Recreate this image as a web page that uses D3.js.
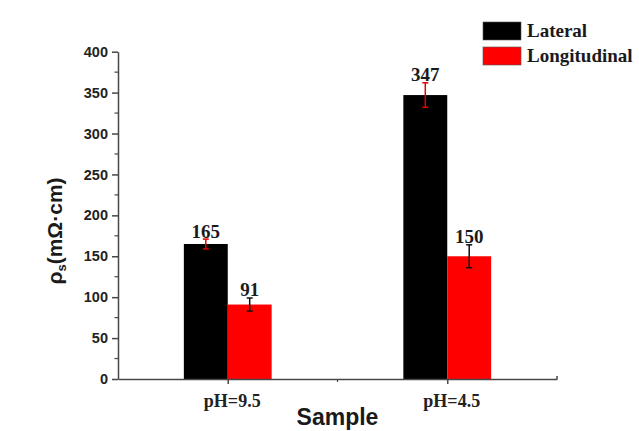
<!DOCTYPE html>
<html>
<head>
<meta charset="utf-8">
<script src="https://cdn.jsdelivr.net/npm/d3@7"></script>
<style>
  body { margin: 0; background: #fff; }
  svg { display: block; }
</style>
</head>
<body>
<svg id="chart" width="639" height="431"></svg>
<script>
// values
const samples = ["pH=9.5", "pH=4.5"]
const lateral = [165, 347]
const lateralErr = [6, 15]
const longitudinal = [91, 150]
const longitudinalErr = [8, 14]
const yTicks = [0, 50, 100, 150, 200, 250, 300, 350, 400]

const svg = d3.select("#chart")
const axisColor = "#474747"

// plot frame
const frame = {left: 118, right: 557, top: 51.7, bottom: 379}

// categories sit at 1, 2 on a linear axis from 0.5 to 2.5 (Origin style)
const x = d3.scaleLinear().domain([0.5, 2.5]).range([frame.left, frame.right])
const y = d3.scaleLinear().domain([0, 400]).range([frame.bottom, frame.top])
const barW = 0.2

const series = [
	{name: "Lateral", values: lateral, err: lateralErr, fill: "#000", errColor: "#e00000", offset: -1},
	{name: "Longitudinal", values: longitudinal, err: longitudinalErr, fill: "#ff0000", errColor: "#111", offset: 0}
]

// bars
series.forEach(s => {
	const g = svg.append("g")
	g.selectAll("rect")
		.data(s.values)
		.join("rect")
		.attr("x", (d, i) => x(i + 1 + s.offset * barW))
		.attr("width", x(1 + barW) - x(1))
		.attr("y", d => y(d))
		.attr("height", d => y(0) - y(d))
		.attr("fill", s.fill)
})

// error bars and value labels
series.forEach(s => {
	s.values.forEach((v, i) => {
		const cx = x(i + 1 + (s.offset + 0.5) * barW)
		const e = s.err[i]
		const g = svg.append("g")
			.attr("stroke", s.errColor)
			.attr("stroke-width", 1.5)
		g.append("line").attr("x1", cx).attr("x2", cx).attr("y1", y(v + e)).attr("y2", y(v - e))
		g.append("line").attr("x1", cx - 3).attr("x2", cx + 3).attr("y1", y(v + e)).attr("y2", y(v + e))
		g.append("line").attr("x1", cx - 3).attr("x2", cx + 3).attr("y1", y(v - e)).attr("y2", y(v - e))

		svg.append("text")
			.attr("x", cx)
			.attr("y", y(v + e) - 1.5)
			.attr("text-anchor", "middle")
			.attr("font-family", "'Liberation Serif', 'Times New Roman', serif")
			.attr("font-weight", "bold")
			.attr("font-size", 19)
			.attr("fill", "#1a1a1a")
			.text(v)
	})
})

// y axis with minor ticks
const yAxis = svg.append("g")
	.attr("transform", `translate(${frame.left},0)`)
	.call(d3.axisLeft(y).tickValues(yTicks).tickSize(6).tickPadding(4).tickSizeOuter(0))
yAxis.selectAll("path, line").attr("stroke", axisColor).attr("stroke-width", 1.5)
yAxis.selectAll("text")
	.attr("font-family", "'Liberation Sans', Arial, sans-serif")
	.attr("font-weight", "bold")
	.attr("font-size", 14.5)
	.attr("fill", "#222")

svg.append("g")
	.selectAll("line")
	.data(d3.range(25, 400, 50))
	.join("line")
	.attr("x1", frame.left - 3.5).attr("x2", frame.left)
	.attr("y1", d => y(d)).attr("y2", d => y(d))
	.attr("stroke", axisColor)
	.attr("stroke-width", 1.2)

// x axis
const xAxis = svg.append("g")
	.attr("transform", `translate(0,${frame.bottom})`)
	.call(d3.axisBottom(x).tickValues([1, 2]).tickFormat((d, i) => samples[i]).tickSize(5).tickPadding(10).tickSizeOuter(0))
xAxis.selectAll("path, line").attr("stroke", axisColor).attr("stroke-width", 1.5)
xAxis.selectAll("text")
	.attr("dx", 4)
	.attr("font-family", "'Liberation Serif', 'Times New Roman', serif")
	.attr("font-weight", "bold")
	.attr("font-size", 18)
	.attr("fill", "#222")

// minor tick between the samples and the small closing tick at the end
svg.append("line")
	.attr("x1", x(1.5)).attr("x2", x(1.5))
	.attr("y1", frame.bottom).attr("y2", frame.bottom + 3)
	.attr("stroke", axisColor).attr("stroke-width", 1.2)
svg.append("line")
	.attr("x1", frame.right).attr("x2", frame.right)
	.attr("y1", frame.bottom).attr("y2", frame.bottom - 3)
	.attr("stroke", axisColor).attr("stroke-width", 1.5)

// axis titles
svg.append("text")
	.attr("x", (frame.left + frame.right) / 2)
	.attr("y", 425)
	.attr("text-anchor", "middle")
	.attr("font-family", "'Liberation Sans', Arial, sans-serif")
	.attr("font-weight", "bold")
	.attr("font-size", 23)
	.attr("fill", "#1a1a1a")
	.text("Sample")

const yTitle = svg.append("text")
	.attr("transform", "translate(62,231) rotate(-90)")
	.attr("text-anchor", "middle")
	.attr("font-family", "'Liberation Sans', Arial, sans-serif")
	.attr("font-weight", "bold")
	.attr("font-size", 21)
	.attr("fill", "#1a1a1a")
yTitle.append("tspan").text("ρ")
yTitle.append("tspan").attr("font-size", 13).attr("dy", 4).text("s")
yTitle.append("tspan").attr("dy", -4).text("(mΩ·cm)")

// legend
const legend = svg.append("g").attr("transform", "translate(483,22)")
series.forEach((s, i) => {
	const row = legend.append("g").attr("transform", `translate(0,${i * 25})`)
	row.append("rect")
		.attr("width", 38).attr("height", 18)
		.attr("fill", s.fill)
		.attr("stroke", "#555").attr("stroke-width", 0.6)
	row.append("text")
		.attr("x", 44).attr("y", 15)
		.attr("font-family", "'Liberation Serif', 'Times New Roman', serif")
		.attr("font-weight", "bold")
		.attr("font-size", 19)
		.attr("fill", "#1a1a1a")
		.text(s.name)
})
</script>
</body>
</html>
